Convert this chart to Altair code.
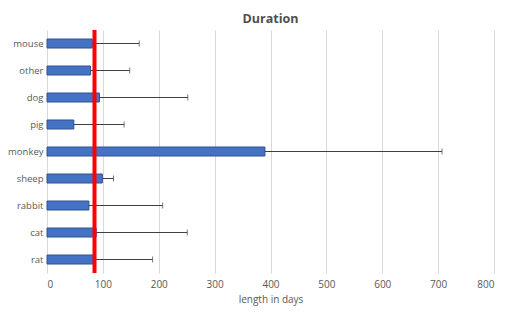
import altair as alt
import pandas as pd

animals = ["mouse", "other", "dog", "pig", "monkey", "sheep", "rabbit", "cat", "rat"]
durations = [81, 78, 94, 48, 390, 99, 75, 88, 84]
err_ends = [165, 148, 252, 138, 707, 119, 207, 251, 189]
mean_line = [85]
x_ticks = [0, 100, 200, 300, 400, 500, 600, 700, 800]

df = pd.DataFrame({"animal": animals, "days": durations, "err": err_ends})
mean_df = pd.DataFrame({"mean": mean_line})

FONT = "Open Sans"
GREY = "#595959"

y_enc = alt.Y("animal:N", sort=animals, title=None,
              scale=alt.Scale(paddingInner=0.0, paddingOuter=0.0),
              axis=alt.Axis(domain=False, ticks=False, labelPadding=4,
                            labelFont=FONT, labelFontSize=9.5, labelColor=GREY, grid=False))
x_enc = alt.X("days:Q", title="length in days",
              scale=alt.Scale(domain=[0, 800], nice=False),
              axis=alt.Axis(values=x_ticks, domain=False, ticks=False, grid=True,
                            gridColor="#d9d9d9", gridWidth=1, labelPadding=6,
                            labelFont=FONT, labelFontSize=10, labelColor=GREY,
                            titleFont=FONT, titleFontSize=10, titleColor=GREY,
                            titleFontWeight="normal", titlePadding=5))

bars = alt.Chart(df).mark_bar(height=9, color="#4472C4", stroke="#2F528F",
                              strokeWidth=1).encode(x=x_enc, y=y_enc)

err_rule = alt.Chart(df).mark_rule(color="#404040", strokeWidth=1).encode(
    x="days:Q", x2="err:Q", y=alt.Y("animal:N", sort=animals))
err_cap = alt.Chart(df).mark_tick(color="#404040", orient="vertical", size=6,
                                  thickness=1).encode(
    x="err:Q", y=alt.Y("animal:N", sort=animals))

mean_rule = alt.Chart(mean_df).mark_rule(color="#FF0000", strokeWidth=4).encode(
    x="mean:Q")

chart = alt.layer(bars, err_rule, err_cap, mean_rule).properties(
    width=447, height=243,
    autosize=alt.AutoSizeParams(type="none"),
    padding={"left": 39, "top": 22, "right": 3, "bottom": 34},
    title=alt.TitleParams("Duration", font=FONT, fontSize=12.5, fontWeight="bold",
                          color="#505050", anchor="middle", offset=3),
    background="white",
).configure_view(stroke=None)

chart.save("out.html", embed_options={"renderer": "svg", "actions": False})
